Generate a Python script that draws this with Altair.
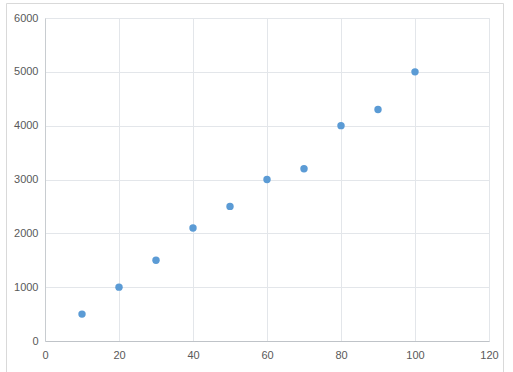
import altair as alt
import pandas as pd

x_vals = [10, 20, 30, 40, 50, 60, 70, 80, 90, 100]
y_vals = [500, 1000, 1500, 2100, 2500, 3000, 3200, 4000, 4300, 5000]

df = pd.DataFrame({"x": x_vals, "y": y_vals})

W, H = 444, 323
PL, PT = 45, 18

points = alt.Chart(df).mark_circle(size=55, color="#5B9BD5", opacity=1).encode(
    x=alt.X("x:Q", scale=alt.Scale(domain=[0, 120], nice=False),
            axis=alt.Axis(values=[0, 20, 40, 60, 80, 100, 120], title=None, format="d",
                          grid=True, gridColor="#E3E6EA", domainColor="#BFC3C8",
                          ticks=False, labelPadding=8, labelColor="#595959",
                          labelFont="Liberation Sans", labelFontSize=11,
                          labelFlush=False)),
    y=alt.Y("y:Q", scale=alt.Scale(domain=[0, 6000], nice=False),
            axis=alt.Axis(values=[0, 1000, 2000, 3000, 4000, 5000, 6000], title=None, format="d",
                          grid=True, gridColor="#E3E6EA", domainColor="#C8CCD0",
                          ticks=False, labelPadding=7, labelColor="#595959",
                          labelFont="Liberation Sans", labelFontSize=11,
                          labelFlush=False)),
)

border = alt.Chart(alt.Data(values=[{"a": 1}])).mark_rect(
    fill=None, stroke="#D9D9D9", strokeWidth=1, clip=False
).encode(
    x=alt.value(-38.5), x2=alt.value(458.5), y=alt.value(-14.5), y2=alt.value(380)
)

chart = alt.layer(border, points).properties(
    width=W, height=H,
    padding={"left": PL, "top": PT, "right": 513 - PL - W, "bottom": 372 - PT - H},
    autosize=alt.AutoSizeParams(type="none"),
    background="white",
).configure_view(stroke="#E3E6EA")

chart.save("out.html", embed_options={"renderer": "svg", "actions": False})
